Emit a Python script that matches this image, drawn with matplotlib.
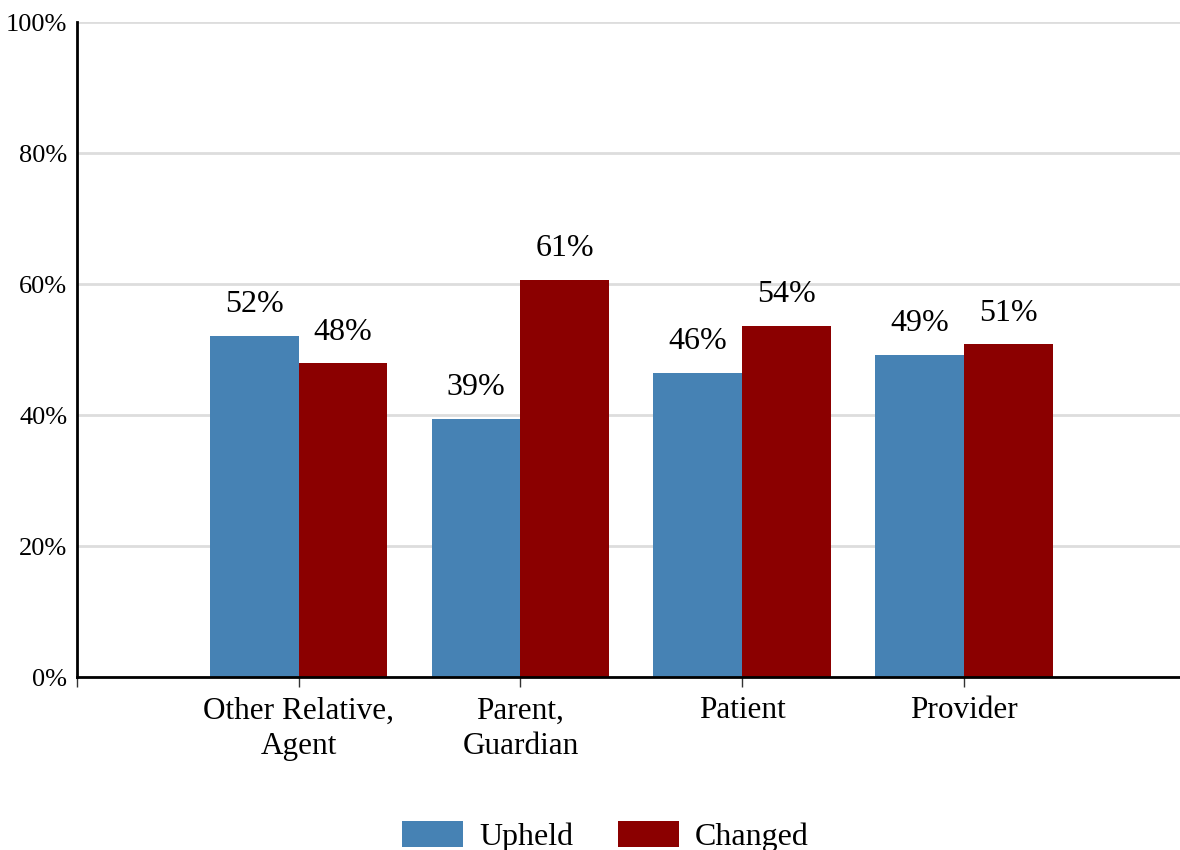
import numpy as np
import matplotlib.pyplot as plt

categories = ["Other Relative,\nAgent", "Parent,\nGuardian", "Patient", "Provider"]
upheld = [52.1, 39.4, 46.4, 49.2]
changed = [47.9, 60.6, 53.6, 50.8]
series_names = ["Upheld", "Changed"]
yticks = [0, 20, 40, 60, 80, 100]

plt.rcParams['font.family'] = ['Liberation Serif', 'DejaVu Serif']

fig = plt.figure(figsize=(11.8, 8.5), dpi=100)
ax = fig.add_axes([0.0653, 0.2035, 0.9347, 0.7706])

x = np.arange(len(categories))
w = 0.4
b1 = ax.bar(x - w / 2, upheld, w, color='#4682B4', label=series_names[0], zorder=3)
b2 = ax.bar(x + w / 2, changed, w, color='#8B0000', label=series_names[1], zorder=3)

for bars in (b1, b2):
    for r in bars:
        v = r.get_height()
        ax.annotate(f"{v:.0f}%", (r.get_x() + r.get_width() / 2, v),
                    xytext=(0, 17), textcoords='offset points',
                    ha='center', va='baseline', fontsize=23)

ax.set_xlim(-0.995, 3.975)
ax.set_ylim(0, 100)
ax.set_yticks(yticks)
ax.set_yticklabels([f"{t}%" for t in yticks], fontsize=19)
ax.tick_params(axis='y', length=0, pad=7)
ax.set_xticks([-1] + list(x))
ax.set_xticklabels([''] + categories, fontsize=22.5, linespacing=1.3)
ax.tick_params(axis='x', length=7, width=1, color='#333333', pad=7)

ax.grid(axis='y', color='#dddddd', linewidth=2, zorder=0)
for s in ['top', 'right']:
    ax.spines[s].set_visible(False)
for s in ['left', 'bottom']:
    ax.spines[s].set_linewidth(2)
    ax.spines[s].set_zorder(4)

fig.legend(handles=[b1, b2], labels=series_names, loc='lower center',
           bbox_to_anchor=(0.513, -0.021), ncol=2, frameon=False, fontsize=23,
           handlelength=1.9, handleheight=0.85, handletextpad=0.5,
           columnspacing=1.4, borderpad=0)

fig.savefig('out.png', dpi=100)
